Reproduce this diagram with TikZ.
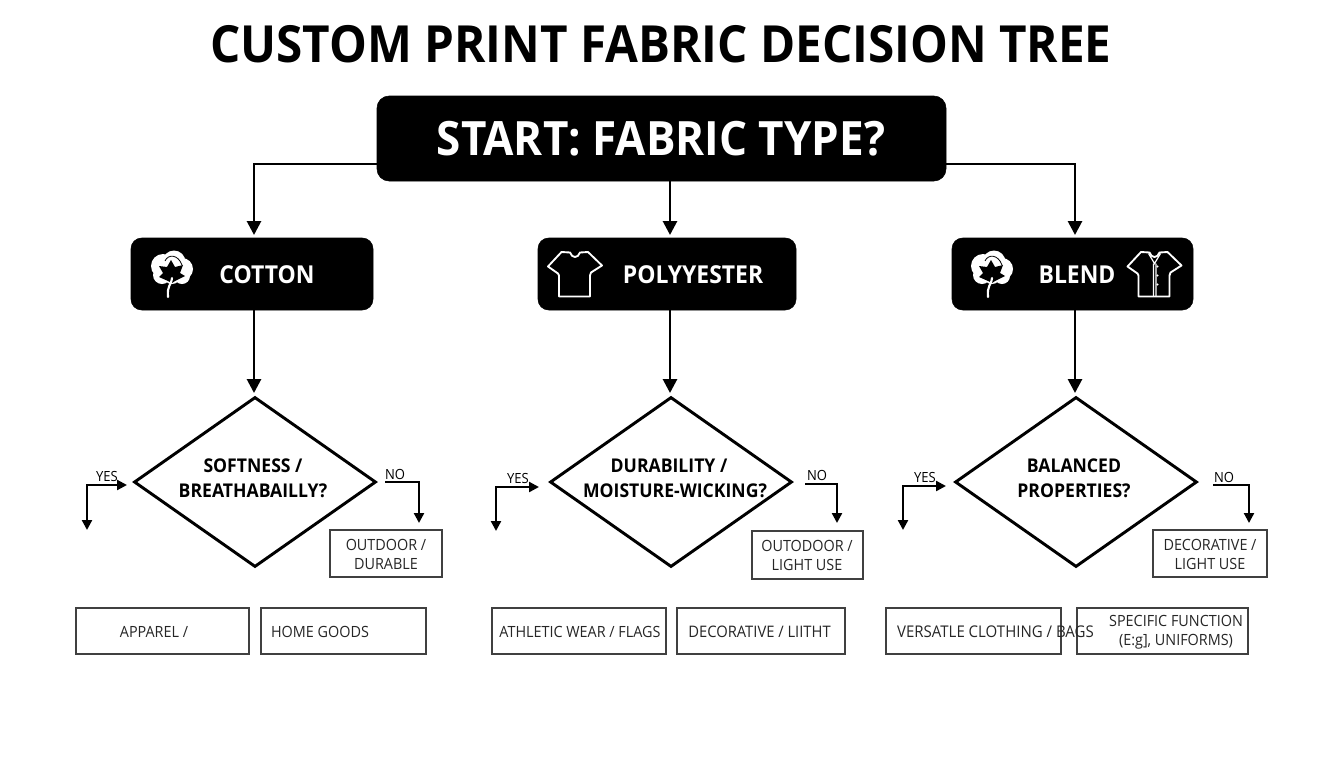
\documentclass[tikz,border=0pt]{standalone}
\usepackage{fontspec}
\setmainfont{Open Sans}[FakeStretch=0.93]
\usetikzlibrary{arrows.meta,shapes.geometric}
\tikzset{
  px/.style 2 args={minimum width=#1*0.75pt,minimum height=#2*0.75pt},
  blackbox/.style={fill=black,draw=black,rounded corners=8pt,inner sep=0pt},
  headtext/.style={text=white,font=\bfseries\fontsize{18.5}{22}\selectfont,inner sep=0pt},
  dec/.style={diamond,draw=black,line width=2.2pt,fill=white,inner sep=0pt,aspect=1.42,miter limit=10},
  dectext/.style={align=center,inner sep=0pt,font=\bfseries\fontsize{14.2}{18.6}\selectfont},
  outbox/.style={draw=black!75,line width=0.95pt,fill=white,inner sep=0pt},
  boxtext/.style={align=center,inner sep=0pt,text=black!85,font=\fontsize{11.6}{14.3}\selectfont},
  yn/.style={inner sep=0pt,text=black,font=\fontsize{10.5}{12}\selectfont},
  bigarr/.style={line width=2.1pt,-{Triangle[length=10.5pt,width=10.5pt]}},
  smallarr/.style={line width=1.7pt,-{Triangle[length=7.5pt,width=7.5pt]}},
  dblarr/.style={line width=1.7pt,{Triangle[length=7.5pt,width=7.5pt]}-{Triangle[length=7.5pt,width=7.5pt]}},
  icon/.style={white,line width=1.4pt,line join=round}
}
\newcommand{\cottonicon}[2]{%
  \begin{scope}[shift={(#1,#2)}]
    \fill[white] (-9,-6) circle[radius=12] (2,-10) circle[radius=11.5]
      (10,-3) circle[radius=11] (10,4) circle[radius=8] (-10,3) circle[radius=9] (0,3) circle[radius=9];
    \draw[black,line width=0.6pt] (-7,-11) .. controls (-4,-18) and (6,-18) .. (10,-7);
    \fill[black] (-1,-12) -- (3,-5) -- (11,-7) -- (8,1) -- (13,4) -- (3,9) -- (0,11) -- (-4,9)
      -- (-13,5) -- (-9,1) -- (-13,-6) -- (-5,-5) -- cycle;
    \draw[white,line width=1.6pt,line cap=round] (0,6) .. controls (-1,14) and (-5,13) .. (-4,25);
  \end{scope}}
\newcommand{\shirtoutline}{%
  (-13.5,-22.5) -- (-27,-8) -- (-17,-1) -- (-16,1) -- (-16,22) -- (15,22) -- (15,1) -- (16,-2)
  -- (27,-9) -- (13,-22.5) -- (5,-22) .. controls (3,-16) and (-3,-16) .. (-5,-22) -- cycle}
\begin{document}
\begin{tikzpicture}[x=0.75pt,y=-0.75pt]
\useasboundingbox (0,0) rectangle (1344,768);
\node[inner sep=0pt,font=\bfseries\fontsize{38.4}{42}\selectfont] (title) at (661,44.5) {CUSTOM PRINT FABRIC DECISION TREE};
% start and category boxes
\node[blackbox,px={569}{85},rounded corners=9pt] (start) at (661.5,138.5) {};
\node[headtext,font=\bfseries\fontsize{35.5}{40}\selectfont] (starttext) at (661,139) {START: FABRIC TYPE?};
\node[blackbox,px={242}{72}] (cotton) at (252,274) {};
\node[blackbox,px={258}{72}] (poly) at (667,274) {};
\node[blackbox,px={241}{72}] (blend) at (1072.5,274) {};
\node[headtext] (cottontext) at (267,274.5) {COTTON};
\node[headtext] (polytext) at (693,274.5) {POLYYESTER};
\node[headtext] (blendtext) at (1077,274.5) {BLEND};
\cottonicon{172}{272}
\cottonicon{992}{272}
\begin{scope}[shift={(575,274.5)}]
  \draw[icon] \shirtoutline;
\end{scope}
\begin{scope}[shift={(1154.5,274.5)}]
  \draw[icon] \shirtoutline;
  \draw[white,line width=0.9pt] (-6,-21) -- (0,-11) -- (6,-21) (-1,-11) -- (-1,22) (1.5,-11) -- (1.5,22);
  \fill[white] (3,-8) circle[radius=1.1] (3,1) circle[radius=1.1] (3,10) circle[radius=1.1];
\end{scope}
% diamonds
\node[dec,px={242}{170}] (d1) at (255,482) {};
\node[dec,px={242}{170}] (d2) at (671,482) {};
\node[dec,px={242}{170}] (d3) at (1076,482) {};
\node[dectext] (d1t) at (253,478) {SOFTNESS /\\BREATHABAILLY?};
\node[dectext] (d2t) at (675,478) {DURABILITY /\hspace*{9pt}\\MOISTURE-WICKING?};
\node[dectext] (d3t) at (1074,478) {BALANCED\\PROPERTIES?};
% connector coordinates
\coordinate (sl) at (377,164);
\coordinate (sr) at (946,164);
\coordinate (st) at (670,181);
\coordinate (a1) at (254,235);
\coordinate (a2) at (670,235);
\coordinate (a3) at (1075,235);
\draw[bigarr] (sl) -| (a1);
\draw[bigarr] (st) -- (a2);
\draw[bigarr] (sr) -| (a3);
\coordinate (c1) at (254,310);
\coordinate (c2) at (670,310);
\coordinate (c3) at (1075,310);
\coordinate (t1) at (254,393);
\coordinate (t2) at (670,393);
\coordinate (t3) at (1075,393);
\draw[bigarr] (c1) -- (t1);
\draw[bigarr] (c2) -- (t2);
\draw[bigarr] (c3) -- (t3);
% yes / no connectors
\coordinate (y1a) at (87,530);  \coordinate (y1b) at (127,485);
\coordinate (y2a) at (496,531); \coordinate (y2b) at (539,487);
\coordinate (y3a) at (903,530); \coordinate (y3b) at (946,486);
\draw[dblarr] (y1a) |- (y1b);
\draw[dblarr] (y2a) |- (y2b);
\draw[dblarr] (y3a) |- (y3b);
\coordinate (n1a) at (385,482);  \coordinate (n1b) at (419,523);
\coordinate (n2a) at (805,484);  \coordinate (n2b) at (837,523);
\coordinate (n3a) at (1213,485); \coordinate (n3b) at (1249,523);
\draw[smallarr] (n1a) -| (n1b);
\draw[smallarr] (n2a) -| (n2b);
\draw[smallarr] (n3a) -| (n3b);
\node[yn] (y1) at (107,476) {YES};
\node[yn] (y2) at (518,478) {YES};
\node[yn] (y3) at (925,477) {YES};
\node[yn] (n1) at (395,474) {NO};
\node[yn] (n2) at (817,475) {NO};
\node[yn] (n3) at (1224,477) {NO};
% right boxes
\node[outbox,px={112}{47}] (o1) at (386,553.5) {};
\node[outbox,px={111}{48}] (o2) at (807.5,555) {};
\node[outbox,px={114}{47}] (o3) at (1210,553.5) {};
\node[boxtext] (o1t) at (386,554) {OUTDOOR /\\DURABLE};
\node[boxtext] (o2t) at (807,555) {OUTODOOR /\\LIGHT USE};
\node[boxtext] (o3t) at (1210,554) {DECORATIVE /\\LIGHT USE};
% bottom boxes
\node[outbox,px={173}{46}] (b1) at (162.5,631) {};
\node[outbox,px={165}{46}] (b2) at (343.5,631) {};
\node[outbox,px={174}{46}] (b3) at (579,631) {};
\node[outbox,px={168}{46}] (b4) at (761,631) {};
\node[outbox,px={175}{46}] (b5) at (973.5,631) {};
\node[outbox,px={171}{46}] (b6) at (1162.5,631) {};
\node[boxtext] (b1t) at (154,632) {APPAREL /};
\node[boxtext] (b2t) at (320,632) {HOME GOODS};
\node[boxtext] (b3t) at (580,632) {ATHLETIC WEAR / FLAGS};
\node[boxtext,font=\fontsize{11.9}{14.3}\selectfont] (b4t) at (759.5,632) {DECORATIVE / LIITHT};
\node[boxtext,font=\fontsize{12.1}{14.3}\selectfont] (b5t) at (995.5,632) {VERSATLE CLOTHING / BAGS};
\node[boxtext] (b6t) at (1176,632) {SPECIFIC FUNCTION\\(E:g], UNIFORMS)};
\end{tikzpicture}
\end{document}
